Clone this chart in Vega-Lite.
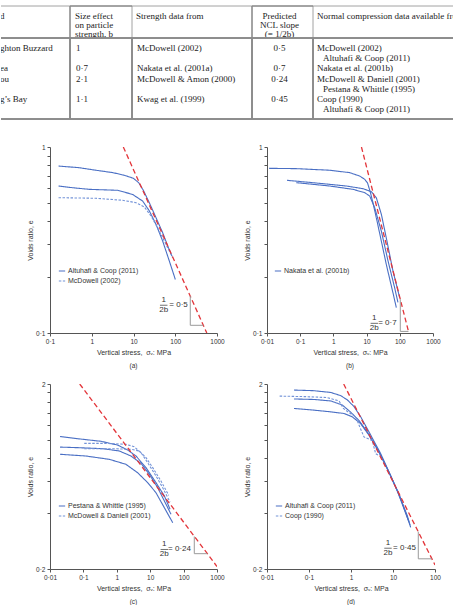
{
  "$schema": "https://vega.github.io/schema/vega-lite/v6.json",
  "padding": {"left": 0, "top": 5, "right": 0, "bottom": 0},
  "bounds": "full",
  "spacing": 24,
  "config": {
    "view": {"stroke": null},
    "font": "Liberation Sans",
    "axis": {
      "labelFont": "Liberation Sans", "labelFontSize": 6.5, "labelColor": "#333",
      "titleFont": "Liberation Sans", "titleFontSize": 7, "titleFontWeight": "normal", "titleColor": "#333",
      "domainColor": "#555", "tickColor": "#555", "tickSize": 3, "grid": false,
      "labelPadding": 2.5, "labelOverlap": false, "labelFlush": false, "labelBound": false
    },
    "axisX": {"titlePadding": 3.5},
    "axisY": {"titlePadding": 2.5, "labelPadding": 2},
    "legend": {
      "title": null, "orient": "none", "labelFont": "Liberation Sans", "labelFontSize": 7, "labelColor": "#333",
      "symbolType": "stroke", "symbolSize": 40, "symbolStrokeWidth": 1.2, "labelOffset": 2, "rowPadding": 3, "padding": 0
    },
    "title": {"font": "Liberation Sans", "fontSize": 6.5, "fontWeight": "normal", "color": "#333", "offset": 7}
  },
  "resolve": {
    "scale": {"x": "independent", "y": "independent", "color": "independent", "strokeDash": "independent"},
    "legend": {"color": "independent", "strokeDash": "independent"}
  },
  "datasets": {
    "tableHeader": [
      {"col": "sand", "line": 0, "text": "d"},
      {"col": "b", "line": 0, "text": "Size effect"},
      {"col": "b", "line": 1, "text": "on particle"},
      {"col": "b", "line": 2, "text": "strength, b"},
      {"col": "strength", "line": 0, "text": "Strength data from"},
      {"col": "slope", "line": 0, "text": "Predicted"},
      {"col": "slope", "line": 1, "text": "NCL slope"},
      {"col": "slope", "line": 2, "text": "(= 1/2b)"},
      {"col": "ncl", "line": 0, "text": "Normal compression data available from"}
    ],
    "tableBody": [
      {"line": 0, "sand": "ghton Buzzard", "b": "1", "strength": "McDowell (2002)", "slope": "0·5", "ncl": "McDowell (2002)", "cont": false},
      {"line": 1, "sand": "", "b": "", "strength": "", "slope": "", "ncl": "Altuhafi & Coop (2011)", "cont": true},
      {"line": 2, "sand": "ea", "b": "0·7", "strength": "Nakata et al. (2001a)", "slope": "0·7", "ncl": "Nakata et al. (2001b)", "cont": false},
      {"line": 3, "sand": "ou", "b": "2·1", "strength": "McDowell & Amon (2000)", "slope": "0·24", "ncl": "McDowell & Daniell (2001)", "cont": false},
      {"line": 4, "sand": "", "b": "", "strength": "", "slope": "", "ncl": "Pestana & Whittle (1995)", "cont": true},
      {"line": 5, "sand": "g’s Bay", "b": "1·1", "strength": "Kwag et al. (1999)", "slope": "0·45", "ncl": "Coop (1990)", "cont": false},
      {"line": 6, "sand": "", "b": "", "strength": "", "slope": "", "ncl": "Altuhafi & Coop (2011)", "cont": true}
    ],
    "curves": [
      {"panel": "a", "test": "a1", "source": "Altuhafi & Coop (2011)", "stress": 0.16, "e": 0.79},
      {"panel": "a", "test": "a1", "source": "Altuhafi & Coop (2011)", "stress": 0.5, "e": 0.774},
      {"panel": "a", "test": "a1", "source": "Altuhafi & Coop (2011)", "stress": 1.26, "e": 0.75},
      {"panel": "a", "test": "a1", "source": "Altuhafi & Coop (2011)", "stress": 3.2, "e": 0.728},
      {"panel": "a", "test": "a1", "source": "Altuhafi & Coop (2011)", "stress": 6, "e": 0.705},
      {"panel": "a", "test": "a1", "source": "Altuhafi & Coop (2011)", "stress": 9.9, "e": 0.679},
      {"panel": "a", "test": "a1", "source": "Altuhafi & Coop (2011)", "stress": 13.3, "e": 0.643},
      {"panel": "a", "test": "a1", "source": "Altuhafi & Coop (2011)", "stress": 17.2, "e": 0.585},
      {"panel": "a", "test": "a1", "source": "Altuhafi & Coop (2011)", "stress": 23.9, "e": 0.502},
      {"panel": "a", "test": "a1", "source": "Altuhafi & Coop (2011)", "stress": 34.6, "e": 0.417},
      {"panel": "a", "test": "a1", "source": "Altuhafi & Coop (2011)", "stress": 50, "e": 0.346},
      {"panel": "a", "test": "a1", "source": "Altuhafi & Coop (2011)", "stress": 65.9, "e": 0.294},
      {"panel": "a", "test": "a1", "source": "Altuhafi & Coop (2011)", "stress": 83.6, "e": 0.259},
      {"panel": "a", "test": "a2", "source": "Altuhafi & Coop (2011)", "stress": 0.16, "e": 0.617},
      {"panel": "a", "test": "a2", "source": "Altuhafi & Coop (2011)", "stress": 0.35, "e": 0.604},
      {"panel": "a", "test": "a2", "source": "Altuhafi & Coop (2011)", "stress": 0.87, "e": 0.592},
      {"panel": "a", "test": "a2", "source": "Altuhafi & Coop (2011)", "stress": 4.2, "e": 0.585},
      {"panel": "a", "test": "a2", "source": "Altuhafi & Coop (2011)", "stress": 9.5, "e": 0.556},
      {"panel": "a", "test": "a2", "source": "Altuhafi & Coop (2011)", "stress": 16.6, "e": 0.512},
      {"panel": "a", "test": "a2", "source": "Altuhafi & Coop (2011)", "stress": 24, "e": 0.453},
      {"panel": "a", "test": "a2", "source": "Altuhafi & Coop (2011)", "stress": 34.6, "e": 0.384},
      {"panel": "a", "test": "a2", "source": "Altuhafi & Coop (2011)", "stress": 50, "e": 0.312},
      {"panel": "a", "test": "a2", "source": "Altuhafi & Coop (2011)", "stress": 72, "e": 0.244},
      {"panel": "a", "test": "a2", "source": "Altuhafi & Coop (2011)", "stress": 100.5, "e": 0.194},
      {"panel": "a", "test": "a3", "source": "McDowell (2002)", "stress": 0.16, "e": 0.534},
      {"panel": "a", "test": "a3", "source": "McDowell (2002)", "stress": 1.26, "e": 0.53},
      {"panel": "a", "test": "a3", "source": "McDowell (2002)", "stress": 5.5, "e": 0.517},
      {"panel": "a", "test": "a3", "source": "McDowell (2002)", "stress": 11.5, "e": 0.502},
      {"panel": "a", "test": "a3", "source": "McDowell (2002)", "stress": 18.2, "e": 0.476},
      {"panel": "a", "test": "a3", "source": "McDowell (2002)", "stress": 26.2, "e": 0.426},
      {"panel": "a", "test": "a3", "source": "McDowell (2002)", "stress": 37.9, "e": 0.368},
      {"panel": "a", "test": "a3", "source": "McDowell (2002)", "stress": 54.7, "e": 0.312},
      {"panel": "a", "test": "a3", "source": "McDowell (2002)", "stress": 86.9, "e": 0.254},

      {"panel": "b", "test": "b1", "source": "Nakata et al. (2001b)", "stress": 0.0115, "e": 0.768},
      {"panel": "b", "test": "b1", "source": "Nakata et al. (2001b)", "stress": 0.076, "e": 0.765},
      {"panel": "b", "test": "b1", "source": "Nakata et al. (2001b)", "stress": 0.77, "e": 0.75},
      {"panel": "b", "test": "b1", "source": "Nakata et al. (2001b)", "stress": 3.1, "e": 0.728},
      {"panel": "b", "test": "b1", "source": "Nakata et al. (2001b)", "stress": 6.2, "e": 0.698},
      {"panel": "b", "test": "b1", "source": "Nakata et al. (2001b)", "stress": 8.8, "e": 0.67},
      {"panel": "b", "test": "b1", "source": "Nakata et al. (2001b)", "stress": 10.7, "e": 0.64},
      {"panel": "b", "test": "b1", "source": "Nakata et al. (2001b)", "stress": 13, "e": 0.57},
      {"panel": "b", "test": "b1", "source": "Nakata et al. (2001b)", "stress": 15.6, "e": 0.5},
      {"panel": "b", "test": "b1", "source": "Nakata et al. (2001b)", "stress": 20, "e": 0.41},
      {"panel": "b", "test": "b1", "source": "Nakata et al. (2001b)", "stress": 28, "e": 0.31},
      {"panel": "b", "test": "b1", "source": "Nakata et al. (2001b)", "stress": 40, "e": 0.23},
      {"panel": "b", "test": "b1", "source": "Nakata et al. (2001b)", "stress": 62, "e": 0.165},
      {"panel": "b", "test": "b1", "source": "Nakata et al. (2001b)", "stress": 78.5, "e": 0.137},
      {"panel": "b", "test": "b2", "source": "Nakata et al. (2001b)", "stress": 0.04, "e": 0.662},
      {"panel": "b", "test": "b2", "source": "Nakata et al. (2001b)", "stress": 0.24, "e": 0.643},
      {"panel": "b", "test": "b2", "source": "Nakata et al. (2001b)", "stress": 2.45, "e": 0.617},
      {"panel": "b", "test": "b2", "source": "Nakata et al. (2001b)", "stress": 7.8, "e": 0.597},
      {"panel": "b", "test": "b2", "source": "Nakata et al. (2001b)", "stress": 13.9, "e": 0.575},
      {"panel": "b", "test": "b2", "source": "Nakata et al. (2001b)", "stress": 19.6, "e": 0.534},
      {"panel": "b", "test": "b2", "source": "Nakata et al. (2001b)", "stress": 27.8, "e": 0.435},
      {"panel": "b", "test": "b2", "source": "Nakata et al. (2001b)", "stress": 41, "e": 0.312},
      {"panel": "b", "test": "b2", "source": "Nakata et al. (2001b)", "stress": 62.4, "e": 0.215},
      {"panel": "b", "test": "b2", "source": "Nakata et al. (2001b)", "stress": 99, "e": 0.155},
      {"panel": "b", "test": "b3", "source": "Nakata et al. (2001b)", "stress": 0.076, "e": 0.643},
      {"panel": "b", "test": "b3", "source": "Nakata et al. (2001b)", "stress": 0.77, "e": 0.617},
      {"panel": "b", "test": "b3", "source": "Nakata et al. (2001b)", "stress": 3.9, "e": 0.592},
      {"panel": "b", "test": "b3", "source": "Nakata et al. (2001b)", "stress": 8.8, "e": 0.568},
      {"panel": "b", "test": "b3", "source": "Nakata et al. (2001b)", "stress": 12.4, "e": 0.545},
      {"panel": "b", "test": "b3", "source": "Nakata et al. (2001b)", "stress": 17.5, "e": 0.472},
      {"panel": "b", "test": "b3", "source": "Nakata et al. (2001b)", "stress": 27.8, "e": 0.353},
      {"panel": "b", "test": "b3", "source": "Nakata et al. (2001b)", "stress": 44.2, "e": 0.244},
      {"panel": "b", "test": "b3", "source": "Nakata et al. (2001b)", "stress": 70, "e": 0.175},
      {"panel": "b", "test": "b3", "source": "Nakata et al. (2001b)", "stress": 88, "e": 0.146},

      {"panel": "c", "test": "c1", "source": "Pestana & Whittle (1995)", "stress": 0.02, "e": 1.04},
      {"panel": "c", "test": "c1", "source": "Pestana & Whittle (1995)", "stress": 0.075, "e": 1.01},
      {"panel": "c", "test": "c1", "source": "Pestana & Whittle (1995)", "stress": 0.34, "e": 0.98},
      {"panel": "c", "test": "c1", "source": "Pestana & Whittle (1995)", "stress": 1.06, "e": 0.935},
      {"panel": "c", "test": "c1", "source": "Pestana & Whittle (1995)", "stress": 2.12, "e": 0.879},
      {"panel": "c", "test": "c1", "source": "Pestana & Whittle (1995)", "stress": 3.76, "e": 0.816},
      {"panel": "c", "test": "c1", "source": "Pestana & Whittle (1995)", "stress": 7.5, "e": 0.706},
      {"panel": "c", "test": "c1", "source": "Pestana & Whittle (1995)", "stress": 14.9, "e": 0.586},
      {"panel": "c", "test": "c1", "source": "Pestana & Whittle (1995)", "stress": 26.5, "e": 0.497},
      {"panel": "c", "test": "c1", "source": "Pestana & Whittle (1995)", "stress": 39.2, "e": 0.421},
      {"panel": "c", "test": "c2", "source": "Pestana & Whittle (1995)", "stress": 0.02, "e": 0.912},
      {"panel": "c", "test": "c2", "source": "Pestana & Whittle (1995)", "stress": 0.075, "e": 0.905},
      {"panel": "c", "test": "c2", "source": "Pestana & Whittle (1995)", "stress": 0.38, "e": 0.894},
      {"panel": "c", "test": "c2", "source": "Pestana & Whittle (1995)", "stress": 1.19, "e": 0.869},
      {"panel": "c", "test": "c2", "source": "Pestana & Whittle (1995)", "stress": 2.66, "e": 0.816},
      {"panel": "c", "test": "c2", "source": "Pestana & Whittle (1995)", "stress": 5.3, "e": 0.745},
      {"panel": "c", "test": "c2", "source": "Pestana & Whittle (1995)", "stress": 9.4, "e": 0.65},
      {"panel": "c", "test": "c2", "source": "Pestana & Whittle (1995)", "stress": 16.8, "e": 0.55},
      {"panel": "c", "test": "c2", "source": "Pestana & Whittle (1995)", "stress": 29.7, "e": 0.448},
      {"panel": "c", "test": "c2", "source": "Pestana & Whittle (1995)", "stress": 42, "e": 0.395},
      {"panel": "c", "test": "c3", "source": "Pestana & Whittle (1995)", "stress": 0.02, "e": 0.834},
      {"panel": "c", "test": "c3", "source": "Pestana & Whittle (1995)", "stress": 0.12, "e": 0.816},
      {"panel": "c", "test": "c3", "source": "Pestana & Whittle (1995)", "stress": 0.6, "e": 0.783},
      {"panel": "c", "test": "c3", "source": "Pestana & Whittle (1995)", "stress": 1.88, "e": 0.736},
      {"panel": "c", "test": "c3", "source": "Pestana & Whittle (1995)", "stress": 4.2, "e": 0.663},
      {"panel": "c", "test": "c3", "source": "Pestana & Whittle (1995)", "stress": 8.4, "e": 0.586},
      {"panel": "c", "test": "c3", "source": "Pestana & Whittle (1995)", "stress": 14.9, "e": 0.517},
      {"panel": "c", "test": "c3", "source": "Pestana & Whittle (1995)", "stress": 26.5, "e": 0.429},
      {"panel": "c", "test": "c3", "source": "Pestana & Whittle (1995)", "stress": 47.2, "e": 0.356},
      {"panel": "c", "test": "c4", "source": "McDowell & Daniell (2001)", "stress": 0.106, "e": 0.955},
      {"panel": "c", "test": "c4", "source": "McDowell & Daniell (2001)", "stress": 0.475, "e": 0.955},
      {"panel": "c", "test": "c4", "source": "McDowell & Daniell (2001)", "stress": 1.88, "e": 0.945},
      {"panel": "c", "test": "c4", "source": "McDowell & Daniell (2001)", "stress": 3.3, "e": 0.916},
      {"panel": "c", "test": "c4", "source": "McDowell & Daniell (2001)", "stress": 5.3, "e": 0.851},
      {"panel": "c", "test": "c4", "source": "McDowell & Daniell (2001)", "stress": 8.4, "e": 0.751},
      {"panel": "c", "test": "c4", "source": "McDowell & Daniell (2001)", "stress": 14.9, "e": 0.637},
      {"panel": "c", "test": "c4", "source": "McDowell & Daniell (2001)", "stress": 23.7, "e": 0.55},
      {"panel": "c", "test": "c4", "source": "McDowell & Daniell (2001)", "stress": 39.2, "e": 0.46},
      {"panel": "c", "test": "c5", "source": "McDowell & Daniell (2001)", "stress": 0.106, "e": 0.894},
      {"panel": "c", "test": "c5", "source": "McDowell & Daniell (2001)", "stress": 0.75, "e": 0.894},
      {"panel": "c", "test": "c5", "source": "McDowell & Daniell (2001)", "stress": 2.66, "e": 0.887},
      {"panel": "c", "test": "c5", "source": "McDowell & Daniell (2001)", "stress": 4.7, "e": 0.869},
      {"panel": "c", "test": "c5", "source": "McDowell & Daniell (2001)", "stress": 7.5, "e": 0.8},
      {"panel": "c", "test": "c5", "source": "McDowell & Daniell (2001)", "stress": 11.9, "e": 0.706},
      {"panel": "c", "test": "c5", "source": "McDowell & Daniell (2001)", "stress": 21, "e": 0.598},
      {"panel": "c", "test": "c5", "source": "McDowell & Daniell (2001)", "stress": 36, "e": 0.5},

      {"panel": "d", "test": "d1", "source": "Altuhafi & Coop (2011)", "stress": 0.044, "e": 1.855},
      {"panel": "d", "test": "d1", "source": "Altuhafi & Coop (2011)", "stress": 0.13, "e": 1.84},
      {"panel": "d", "test": "d1", "source": "Altuhafi & Coop (2011)", "stress": 0.33, "e": 1.8},
      {"panel": "d", "test": "d1", "source": "Altuhafi & Coop (2011)", "stress": 0.57, "e": 1.73},
      {"panel": "d", "test": "d1", "source": "Altuhafi & Coop (2011)", "stress": 0.82, "e": 1.64},
      {"panel": "d", "test": "d1", "source": "Altuhafi & Coop (2011)", "stress": 1.18, "e": 1.51},
      {"panel": "d", "test": "d1", "source": "Altuhafi & Coop (2011)", "stress": 1.7, "e": 1.33},
      {"panel": "d", "test": "d1", "source": "Altuhafi & Coop (2011)", "stress": 2.94, "e": 1.06},
      {"panel": "d", "test": "d1", "source": "Altuhafi & Coop (2011)", "stress": 5.1, "e": 0.84},
      {"panel": "d", "test": "d1", "source": "Altuhafi & Coop (2011)", "stress": 8.8, "e": 0.64},
      {"panel": "d", "test": "d1", "source": "Altuhafi & Coop (2011)", "stress": 15.2, "e": 0.478},
      {"panel": "d", "test": "d1", "source": "Altuhafi & Coop (2011)", "stress": 21.9, "e": 0.388},
      {"panel": "d", "test": "d1", "source": "Altuhafi & Coop (2011)", "stress": 26.3, "e": 0.336},
      {"panel": "d", "test": "d2", "source": "Altuhafi & Coop (2011)", "stress": 0.044, "e": 1.66},
      {"panel": "d", "test": "d2", "source": "Altuhafi & Coop (2011)", "stress": 0.13, "e": 1.65},
      {"panel": "d", "test": "d2", "source": "Altuhafi & Coop (2011)", "stress": 0.33, "e": 1.62},
      {"panel": "d", "test": "d2", "source": "Altuhafi & Coop (2011)", "stress": 0.62, "e": 1.54},
      {"panel": "d", "test": "d2", "source": "Altuhafi & Coop (2011)", "stress": 0.98, "e": 1.41},
      {"panel": "d", "test": "d2", "source": "Altuhafi & Coop (2011)", "stress": 1.55, "e": 1.27},
      {"panel": "d", "test": "d2", "source": "Altuhafi & Coop (2011)", "stress": 2.45, "e": 1.1},
      {"panel": "d", "test": "d2", "source": "Altuhafi & Coop (2011)", "stress": 4.2, "e": 0.895},
      {"panel": "d", "test": "d2", "source": "Altuhafi & Coop (2011)", "stress": 7.3, "e": 0.697},
      {"panel": "d", "test": "d2", "source": "Altuhafi & Coop (2011)", "stress": 12.6, "e": 0.531},
      {"panel": "d", "test": "d2", "source": "Altuhafi & Coop (2011)", "stress": 25.4, "e": 0.346},
      {"panel": "d", "test": "d3", "source": "Altuhafi & Coop (2011)", "stress": 0.044, "e": 1.475},
      {"panel": "d", "test": "d3", "source": "Altuhafi & Coop (2011)", "stress": 0.13, "e": 1.445},
      {"panel": "d", "test": "d3", "source": "Altuhafi & Coop (2011)", "stress": 0.33, "e": 1.414},
      {"panel": "d", "test": "d3", "source": "Altuhafi & Coop (2011)", "stress": 0.68, "e": 1.386},
      {"panel": "d", "test": "d3", "source": "Altuhafi & Coop (2011)", "stress": 1.07, "e": 1.33},
      {"panel": "d", "test": "d3", "source": "Altuhafi & Coop (2011)", "stress": 1.7, "e": 1.22},
      {"panel": "d", "test": "d3", "source": "Altuhafi & Coop (2011)", "stress": 2.69, "e": 1.056},
      {"panel": "d", "test": "d3", "source": "Altuhafi & Coop (2011)", "stress": 4.64, "e": 0.857},
      {"panel": "d", "test": "d3", "source": "Altuhafi & Coop (2011)", "stress": 8, "e": 0.667},
      {"panel": "d", "test": "d3", "source": "Altuhafi & Coop (2011)", "stress": 13.9, "e": 0.509},
      {"panel": "d", "test": "d3", "source": "Altuhafi & Coop (2011)", "stress": 24, "e": 0.36},
      {"panel": "d", "test": "d4", "source": "Coop (1990)", "stress": 0.02, "e": 1.72},
      {"panel": "d", "test": "d4", "source": "Coop (1990)", "stress": 0.076, "e": 1.71},
      {"panel": "d", "test": "d4", "source": "Coop (1990)", "stress": 0.27, "e": 1.69},
      {"panel": "d", "test": "d4", "source": "Coop (1990)", "stress": 0.52, "e": 1.62},
      {"panel": "d", "test": "d4", "source": "Coop (1990)", "stress": 0.66, "e": 1.475},
      {"panel": "d", "test": "d4", "source": "Coop (1990)", "stress": 0.9, "e": 1.4},
      {"panel": "d", "test": "d4", "source": "Coop (1990)", "stress": 1.29, "e": 1.33},
      {"panel": "d", "test": "d4", "source": "Coop (1990)", "stress": 1.55, "e": 1.2},
      {"panel": "d", "test": "d4", "source": "Coop (1990)", "stress": 2.04, "e": 1.035},
      {"panel": "d", "test": "d4", "source": "Coop (1990)", "stress": 3.2, "e": 0.99},
      {"panel": "d", "test": "d4", "source": "Coop (1990)", "stress": 3.87, "e": 0.84},
      {"panel": "d", "test": "d4", "source": "Coop (1990)", "stress": 4.6, "e": 0.82}
    ],
    "ncl": [
      {"panel": "a", "stress": 5.7, "e": 1},
      {"panel": "a", "stress": 570, "e": 0.1},
      {"panel": "b", "stress": 7, "e": 1},
      {"panel": "b", "stress": 187.8, "e": 0.1},
      {"panel": "c", "stress": 0.0776, "e": 2},
      {"panel": "c", "stress": 1000, "e": 0.2063},
      {"panel": "d", "stress": 0.67, "e": 2},
      {"panel": "d", "stress": 100, "e": 0.2104}
    ],
    "legs": [
      {"panel": "a", "stress": 229, "stress2": 229, "e": 0.11, "e2": 0.158},
      {"panel": "a", "stress": 229, "stress2": 471, "e": 0.11, "e2": 0.11},
      {"panel": "b", "stress": 103.5, "stress2": 103.5, "e": 0.102, "e2": 0.152},
      {"panel": "b", "stress": 103.5, "stress2": 182.6, "e": 0.102, "e2": 0.102},
      {"panel": "c", "stress": 209, "stress2": 209, "e": 0.242, "e2": 0.3},
      {"panel": "c", "stress": 209, "stress2": 512, "e": 0.242, "e2": 0.242},
      {"panel": "d", "stress": 40, "stress2": 40, "e": 0.227, "e2": 0.318},
      {"panel": "d", "stress": 40, "stress2": 84.3, "e": 0.227, "e2": 0.227}
    ],
    "slopeLabels": [
      {"panel": "a", "stress": 229, "e": 0.141, "text": "= 0·5"},
      {"panel": "b", "stress": 103.5, "e": 0.1127, "text": "= 0·7"},
      {"panel": "c", "stress": 209, "e": 0.255, "text": "= 0·24"},
      {"panel": "d", "stress": 40, "e": 0.259, "text": "= 0·45"}
    ]
  },
  "vconcat": [
    {
      "columns": 5,
      "bounds": "flush",
      "align": "each",
      "spacing": 0,
      "resolve": {"scale": {"x": "independent", "y": "independent"}},
      "concat": [
        {
          "width": 69, "height": 32,
          "data": {"name": "tableHeader"},
          "transform": [{"filter": "datum.col === 'sand'"}],
          "layer": [
            {"mark": {"type": "rule", "color": "#8c8c8c", "strokeWidth": 0.8}, "encoding": {"y": {"value": 0}}},
            {"mark": {"type": "text", "align": "left", "baseline": "middle", "font": "Liberation Serif", "fontSize": 9, "color": "#222", "dx": -1, "clip": true},
             "encoding": {"x": {"value": 0}, "y": {"field": "line", "type": "ordinal", "scale": {"type": "point", "domain": [0, 1, 2], "padding": 0.73, "align": 0.74}, "axis": null}, "text": {"field": "text"}}}
          ]
        },
        {
          "width": 62, "height": 32,
          "data": {"name": "tableHeader"},
          "transform": [{"filter": "datum.col === 'b'"}],
          "layer": [
            {"mark": {"type": "rule", "color": "#8c8c8c", "strokeWidth": 0.8}, "encoding": {"y": {"value": 0}}},
            {"mark": {"type": "rule", "color": "#8c8c8c", "strokeWidth": 0.8}, "encoding": {"x": {"value": 0}}},
            {"mark": {"type": "text", "align": "left", "baseline": "middle", "font": "Liberation Serif", "fontSize": 9, "color": "#222", "dx": 5, "clip": true},
             "encoding": {"x": {"value": 0}, "y": {"field": "line", "type": "ordinal", "scale": {"type": "point", "domain": [0, 1, 2], "padding": 0.73, "align": 0.74}, "axis": null}, "text": {"field": "text"}}}
          ]
        },
        {
          "width": 120, "height": 32,
          "data": {"name": "tableHeader"},
          "transform": [{"filter": "datum.col === 'strength'"}],
          "layer": [
            {"mark": {"type": "rule", "color": "#8c8c8c", "strokeWidth": 0.8}, "encoding": {"y": {"value": 0}}},
            {"mark": {"type": "rule", "color": "#8c8c8c", "strokeWidth": 0.8}, "encoding": {"x": {"value": 0}}},
            {"mark": {"type": "text", "align": "left", "baseline": "middle", "font": "Liberation Serif", "fontSize": 9, "color": "#222", "dx": 4, "clip": true},
             "encoding": {"x": {"value": 0}, "y": {"field": "line", "type": "ordinal", "scale": {"type": "point", "domain": [0, 1, 2], "padding": 0.73, "align": 0.74}, "axis": null}, "text": {"field": "text"}}}
          ]
        },
        {
          "width": 61, "height": 32,
          "data": {"name": "tableHeader"},
          "transform": [{"filter": "datum.col === 'slope'"}],
          "layer": [
            {"mark": {"type": "rule", "color": "#8c8c8c", "strokeWidth": 0.8}, "encoding": {"y": {"value": 0}}},
            {"mark": {"type": "rule", "color": "#8c8c8c", "strokeWidth": 0.8}, "encoding": {"x": {"value": 0}}},
            {"mark": {"type": "text", "align": "center", "baseline": "middle", "font": "Liberation Serif", "fontSize": 9, "color": "#222", "dx": -3, "clip": true},
             "encoding": {"y": {"field": "line", "type": "ordinal", "scale": {"type": "point", "domain": [0, 1, 2], "padding": 0.73, "align": 0.74}, "axis": null}, "text": {"field": "text"}}}
          ]
        },
        {
          "width": 141, "height": 32,
          "data": {"name": "tableHeader"},
          "transform": [{"filter": "datum.col === 'ncl'"}],
          "layer": [
            {"mark": {"type": "rule", "color": "#8c8c8c", "strokeWidth": 0.8}, "encoding": {"y": {"value": 0}}},
            {"mark": {"type": "rule", "color": "#8c8c8c", "strokeWidth": 0.8}, "encoding": {"x": {"value": 0}}},
            {"mark": {"type": "text", "align": "left", "baseline": "middle", "font": "Liberation Serif", "fontSize": 9, "color": "#222", "dx": 4, "clip": true},
             "encoding": {"x": {"value": 0}, "y": {"field": "line", "type": "ordinal", "scale": {"type": "point", "domain": [0, 1, 2], "padding": 0.73, "align": 0.74}, "axis": null}, "text": {"field": "text"}}}
          ]
        },
        {
          "width": 69, "height": 81,
          "data": {"name": "tableBody"},
          "layer": [
            {"mark": {"type": "rule", "color": "#8c8c8c", "strokeWidth": 0.8}, "encoding": {"y": {"value": 0}}},
            {"mark": {"type": "rule", "color": "#8c8c8c", "strokeWidth": 0.8}, "encoding": {"y": {"value": "height"}}},
            {"mark": {"type": "text", "align": "left", "baseline": "middle", "font": "Liberation Serif", "fontSize": 9, "color": "#222", "dx": -1, "clip": true},
             "encoding": {"x": {"value": 0}, "y": {"field": "line", "type": "ordinal", "scale": {"type": "point", "domain": [0, 1, 2, 3, 4, 5, 6], "padding": 1.29, "align": 0.5}, "axis": null}, "text": {"field": "sand"}}}
          ]
        },
        {
          "width": 62, "height": 81,
          "data": {"name": "tableBody"},
          "layer": [
            {"mark": {"type": "rule", "color": "#8c8c8c", "strokeWidth": 0.8}, "encoding": {"y": {"value": 0}}},
            {"mark": {"type": "rule", "color": "#8c8c8c", "strokeWidth": 0.8}, "encoding": {"y": {"value": "height"}}},
            {"mark": {"type": "rule", "color": "#8c8c8c", "strokeWidth": 0.8}, "encoding": {"x": {"value": 0}}},
            {"mark": {"type": "text", "align": "left", "baseline": "middle", "font": "Liberation Serif", "fontSize": 9, "color": "#222", "dx": 6, "clip": true},
             "encoding": {"x": {"value": 0}, "y": {"field": "line", "type": "ordinal", "scale": {"type": "point", "domain": [0, 1, 2, 3, 4, 5, 6], "padding": 1.29, "align": 0.5}, "axis": null}, "text": {"field": "b"}}}
          ]
        },
        {
          "width": 120, "height": 81,
          "data": {"name": "tableBody"},
          "layer": [
            {"mark": {"type": "rule", "color": "#8c8c8c", "strokeWidth": 0.8}, "encoding": {"y": {"value": 0}}},
            {"mark": {"type": "rule", "color": "#8c8c8c", "strokeWidth": 0.8}, "encoding": {"y": {"value": "height"}}},
            {"mark": {"type": "rule", "color": "#8c8c8c", "strokeWidth": 0.8}, "encoding": {"x": {"value": 0}}},
            {"mark": {"type": "text", "align": "left", "baseline": "middle", "font": "Liberation Serif", "fontSize": 9, "color": "#222", "dx": 5, "clip": true},
             "encoding": {"x": {"value": 0}, "y": {"field": "line", "type": "ordinal", "scale": {"type": "point", "domain": [0, 1, 2, 3, 4, 5, 6], "padding": 1.29, "align": 0.5}, "axis": null}, "text": {"field": "strength"}}}
          ]
        },
        {
          "width": 61, "height": 81,
          "data": {"name": "tableBody"},
          "layer": [
            {"mark": {"type": "rule", "color": "#8c8c8c", "strokeWidth": 0.8}, "encoding": {"y": {"value": 0}}},
            {"mark": {"type": "rule", "color": "#8c8c8c", "strokeWidth": 0.8}, "encoding": {"y": {"value": "height"}}},
            {"mark": {"type": "rule", "color": "#8c8c8c", "strokeWidth": 0.8}, "encoding": {"x": {"value": 0}}},
            {"mark": {"type": "text", "align": "center", "baseline": "middle", "font": "Liberation Serif", "fontSize": 9, "color": "#222", "dx": -3, "clip": true},
             "encoding": {"y": {"field": "line", "type": "ordinal", "scale": {"type": "point", "domain": [0, 1, 2, 3, 4, 5, 6], "padding": 1.29, "align": 0.5}, "axis": null}, "text": {"field": "slope"}}}
          ]
        },
        {
          "width": 141, "height": 81,
          "data": {"name": "tableBody"},
          "layer": [
            {"mark": {"type": "rule", "color": "#8c8c8c", "strokeWidth": 0.8}, "encoding": {"y": {"value": 0}}},
            {"mark": {"type": "rule", "color": "#8c8c8c", "strokeWidth": 0.8}, "encoding": {"y": {"value": "height"}}},
            {"mark": {"type": "rule", "color": "#8c8c8c", "strokeWidth": 0.8}, "encoding": {"x": {"value": 0}}},
            {"transform": [{"filter": "!datum.cont"}],
             "mark": {"type": "text", "align": "left", "baseline": "middle", "font": "Liberation Serif", "fontSize": 9, "color": "#222", "dx": 4, "clip": true},
             "encoding": {"x": {"value": 0}, "y": {"field": "line", "type": "ordinal", "scale": {"type": "point", "domain": [0, 1, 2, 3, 4, 5, 6], "padding": 1.29, "align": 0.5}, "axis": null}, "text": {"field": "ncl"}}},
            {"transform": [{"filter": "datum.cont"}],
             "mark": {"type": "text", "align": "left", "baseline": "middle", "font": "Liberation Serif", "fontSize": 9, "color": "#222", "dx": 10, "clip": true},
             "encoding": {"x": {"value": 0}, "y": {"field": "line", "type": "ordinal", "scale": {"type": "point", "domain": [0, 1, 2, 3, 4, 5, 6], "padding": 1.29, "align": 0.5}, "axis": null}, "text": {"field": "ncl"}}}
          ]
        }
      ]
    },
    {
      "columns": 4,
      "bounds": "flush",
      "align": "each",
      "spacing": {"row": 51, "column": 0},
      "resolve": {
        "scale": {"x": "independent", "y": "independent", "color": "independent", "strokeDash": "independent"},
        "legend": {"color": "independent", "strokeDash": "independent"}
      },
      "concat": [
        {"width": 49, "height": 186, "data": {"values": []}, "mark": {"type": "point"}},
        {
          "width": 167, "height": 186,
          "title": {"text": "(a)", "orient": "bottom"},
          "layer": [
            {
              "data": {"name": "curves"},
              "transform": [{"filter": "datum.panel === 'a'"}],
              "mark": {"type": "line", "strokeWidth": 1.1, "clip": true},
              "encoding": {
                "x": {"field": "stress", "type": "quantitative", "scale": {"type": "log", "domain": [0.1, 1000], "nice": false},
                      "axis": {"values": [0.1, 1, 10, 100, 1000], "labelExpr": "replace(format(datum.value, '~g'), '.', '·')", "title": "Vertical stress,\u00a0 σᵥ: MPa"}},
                "y": {"field": "e", "type": "quantitative", "scale": {"type": "log", "domain": [0.1, 1], "nice": false},
                      "axis": {"values": [0.1, 0.2, 0.3, 0.4, 0.5, 0.6, 0.7, 0.8, 0.9, 1], "labelExpr": "datum.value === 1 ? '1' : datum.value === 0.1 ? '0·1' : ''", "title": "Voids ratio, e"}},
                "detail": {"field": "test"},
                "color": {"field": "source", "type": "nominal", "scale": {"domain": ["Altuhafi & Coop (2011)", "McDowell (2002)"], "range": ["#4a6fc4", "#7393d8"]},
                          "legend": {"legendX": 8, "legendY": 120}},
                "strokeDash": {"field": "source", "type": "nominal", "scale": {"domain": ["Altuhafi & Coop (2011)", "McDowell (2002)"], "range": [[1, 0], [2.5, 1.5]]},
                               "legend": {"legendX": 8, "legendY": 120}}
              }
            },
            {
              "data": {"name": "ncl"},
              "transform": [{"filter": "datum.panel === 'a'"}],
              "mark": {"type": "line", "color": "#e3353a", "strokeWidth": 1.3, "strokeDash": [5, 3], "clip": true},
              "encoding": {"x": {"field": "stress", "type": "quantitative"}, "y": {"field": "e", "type": "quantitative"}}
            },
            {
              "data": {"name": "legs"},
              "transform": [{"filter": "datum.panel === 'a'"}],
              "mark": {"type": "rule", "color": "#9a9a9a", "strokeWidth": 1},
              "encoding": {"x": {"field": "stress", "type": "quantitative"}, "x2": {"field": "stress2"}, "y": {"field": "e", "type": "quantitative"}, "y2": {"field": "e2"}}
            },
            {
              "data": {"name": "slopeLabels"},
              "transform": [{"filter": "datum.panel === 'a'"}],
              "encoding": {"x": {"field": "stress", "type": "quantitative"}, "y": {"field": "e", "type": "quantitative"}},
              "layer": [
                {"mark": {"type": "text", "align": "right", "baseline": "middle", "fontSize": 8, "color": "#333", "dx": -2.5}, "encoding": {"text": {"field": "text"}}},
                {"mark": {"type": "text", "text": "1", "align": "center", "baseline": "middle", "fontSize": 8, "color": "#333", "dx": -26.6, "dy": -5}},
                {"mark": {"type": "text", "text": "2b", "align": "center", "baseline": "middle", "fontSize": 8, "color": "#333", "dx": -26.6, "dy": 5}},
                {"mark": {"type": "rule", "color": "#333", "strokeWidth": 0.7, "xOffset": -30.3, "x2Offset": -22.8}, "encoding": {"x2": {"field": "stress"}}}
              ]
            }
          ]
        },
        {"width": 50, "height": 186, "data": {"values": []}, "mark": {"type": "point"}},
        {
          "width": 166, "height": 186,
          "title": {"text": "(b)", "orient": "bottom"},
          "layer": [
            {
              "data": {"name": "curves"},
              "transform": [{"filter": "datum.panel === 'b'"}],
              "mark": {"type": "line", "strokeWidth": 1.1, "clip": true},
              "encoding": {
                "x": {"field": "stress", "type": "quantitative", "scale": {"type": "log", "domain": [0.01, 1000], "nice": false},
                      "axis": {"values": [0.01, 0.1, 1, 10, 100, 1000], "labelExpr": "replace(format(datum.value, '~g'), '.', '·')", "title": "Vertical stress,\u00a0 σᵥ: MPa"}},
                "y": {"field": "e", "type": "quantitative", "scale": {"type": "log", "domain": [0.1, 1], "nice": false},
                      "axis": {"values": [0.1, 0.2, 0.3, 0.4, 0.5, 0.6, 0.7, 0.8, 0.9, 1], "labelExpr": "datum.value === 1 ? '1' : datum.value === 0.1 ? '0·1' : ''", "title": "Voids ratio, e"}},
                "detail": {"field": "test"},
                "color": {"field": "source", "type": "nominal", "scale": {"domain": ["Nakata et al. (2001b)"], "range": ["#4a6fc4"]},
                          "legend": {"legendX": 7, "legendY": 120}},
                "strokeDash": {"field": "source", "type": "nominal", "scale": {"domain": ["Nakata et al. (2001b)"], "range": [[1, 0]]},
                               "legend": {"legendX": 7, "legendY": 120}}
              }
            },
            {
              "data": {"name": "ncl"},
              "transform": [{"filter": "datum.panel === 'b'"}],
              "mark": {"type": "line", "color": "#e3353a", "strokeWidth": 1.3, "strokeDash": [5, 3], "clip": true},
              "encoding": {"x": {"field": "stress", "type": "quantitative"}, "y": {"field": "e", "type": "quantitative"}}
            },
            {
              "data": {"name": "legs"},
              "transform": [{"filter": "datum.panel === 'b'"}],
              "mark": {"type": "rule", "color": "#9a9a9a", "strokeWidth": 1},
              "encoding": {"x": {"field": "stress", "type": "quantitative"}, "x2": {"field": "stress2"}, "y": {"field": "e", "type": "quantitative"}, "y2": {"field": "e2"}}
            },
            {
              "data": {"name": "slopeLabels"},
              "transform": [{"filter": "datum.panel === 'b'"}],
              "encoding": {"x": {"field": "stress", "type": "quantitative"}, "y": {"field": "e", "type": "quantitative"}},
              "layer": [
                {"mark": {"type": "text", "align": "right", "baseline": "middle", "fontSize": 8, "color": "#333", "dx": -3.6}, "encoding": {"text": {"field": "text"}}},
                {"mark": {"type": "text", "text": "1", "align": "center", "baseline": "middle", "fontSize": 8, "color": "#333", "dx": -26, "dy": -5}},
                {"mark": {"type": "text", "text": "2b", "align": "center", "baseline": "middle", "fontSize": 8, "color": "#333", "dx": -26, "dy": 5}},
                {"mark": {"type": "rule", "color": "#333", "strokeWidth": 0.7, "xOffset": -29.7, "x2Offset": -22.3}, "encoding": {"x2": {"field": "stress"}}}
              ]
            }
          ]
        },
        {"width": 49, "height": 185, "data": {"values": []}, "mark": {"type": "point"}},
        {
          "width": 167, "height": 185,
          "title": {"text": "(c)", "orient": "bottom"},
          "layer": [
            {
              "data": {"name": "curves"},
              "transform": [{"filter": "datum.panel === 'c'"}],
              "mark": {"type": "line", "strokeWidth": 1.1, "clip": true},
              "encoding": {
                "x": {"field": "stress", "type": "quantitative", "scale": {"type": "log", "domain": [0.01, 1000], "nice": false},
                      "axis": {"values": [0.01, 0.1, 1, 10, 100, 1000], "labelExpr": "replace(format(datum.value, '~g'), '.', '·')", "title": "Vertical stress,\u00a0 σᵥ: MPa"}},
                "y": {"field": "e", "type": "quantitative", "scale": {"type": "log", "domain": [0.2, 2], "nice": false},
                      "axis": {"values": [0.2, 0.4, 0.6, 0.8, 1, 1.2, 1.4, 1.6, 1.8, 2], "labelExpr": "datum.value === 2 ? '2' : datum.value === 0.2 ? '0·2' : ''", "title": "Voids ratio, e"}},
                "detail": {"field": "test"},
                "color": {"field": "source", "type": "nominal", "scale": {"domain": ["Pestana & Whittle (1995)", "McDowell & Daniell (2001)"], "range": ["#4a6fc4", "#7393d8"]},
                          "legend": {"legendX": 8, "legendY": 118}},
                "strokeDash": {"field": "source", "type": "nominal", "scale": {"domain": ["Pestana & Whittle (1995)", "McDowell & Daniell (2001)"], "range": [[1, 0], [2.5, 1.5]]},
                               "legend": {"legendX": 8, "legendY": 118}}
              }
            },
            {
              "data": {"name": "ncl"},
              "transform": [{"filter": "datum.panel === 'c'"}],
              "mark": {"type": "line", "color": "#e3353a", "strokeWidth": 1.3, "strokeDash": [5, 3], "clip": true},
              "encoding": {"x": {"field": "stress", "type": "quantitative"}, "y": {"field": "e", "type": "quantitative"}}
            },
            {
              "data": {"name": "legs"},
              "transform": [{"filter": "datum.panel === 'c'"}],
              "mark": {"type": "rule", "color": "#9a9a9a", "strokeWidth": 1},
              "encoding": {"x": {"field": "stress", "type": "quantitative"}, "x2": {"field": "stress2"}, "y": {"field": "e", "type": "quantitative"}, "y2": {"field": "e2"}}
            },
            {
              "data": {"name": "slopeLabels"},
              "transform": [{"filter": "datum.panel === 'c'"}],
              "encoding": {"x": {"field": "stress", "type": "quantitative"}, "y": {"field": "e", "type": "quantitative"}},
              "layer": [
                {"mark": {"type": "text", "align": "right", "baseline": "middle", "fontSize": 8, "color": "#333", "dx": -3.3}, "encoding": {"text": {"field": "text"}}},
                {"mark": {"type": "text", "text": "1", "align": "center", "baseline": "middle", "fontSize": 8, "color": "#333", "dx": -30, "dy": -5.5}},
                {"mark": {"type": "text", "text": "2b", "align": "center", "baseline": "middle", "fontSize": 8, "color": "#333", "dx": -30, "dy": 5}},
                {"mark": {"type": "rule", "color": "#333", "strokeWidth": 0.7, "xOffset": -33.7, "x2Offset": -26.3}, "encoding": {"x2": {"field": "stress"}}}
              ]
            }
          ]
        },
        {"width": 49, "height": 185, "data": {"values": []}, "mark": {"type": "point"}},
        {
          "width": 168, "height": 185,
          "title": {"text": "(d)", "orient": "bottom"},
          "layer": [
            {
              "data": {"name": "curves"},
              "transform": [{"filter": "datum.panel === 'd'"}],
              "mark": {"type": "line", "strokeWidth": 1.1, "clip": true},
              "encoding": {
                "x": {"field": "stress", "type": "quantitative", "scale": {"type": "log", "domain": [0.01, 100], "nice": false},
                      "axis": {"values": [0.01, 0.1, 1, 10, 100], "labelExpr": "replace(format(datum.value, '~g'), '.', '·')", "title": "Vertical stress,\u00a0 σᵥ: MPa"}},
                "y": {"field": "e", "type": "quantitative", "scale": {"type": "log", "domain": [0.2, 2], "nice": false},
                      "axis": {"values": [0.2, 0.4, 0.6, 0.8, 1, 1.2, 1.4, 1.6, 1.8, 2], "labelExpr": "datum.value === 2 ? '2' : datum.value === 0.2 ? '0·2' : ''", "title": "Voids ratio, e"}},
                "detail": {"field": "test"},
                "color": {"field": "source", "type": "nominal", "scale": {"domain": ["Altuhafi & Coop (2011)", "Coop (1990)"], "range": ["#4a6fc4", "#7393d8"]},
                          "legend": {"legendX": 8, "legendY": 118}},
                "strokeDash": {"field": "source", "type": "nominal", "scale": {"domain": ["Altuhafi & Coop (2011)", "Coop (1990)"], "range": [[1, 0], [2.5, 1.5]]},
                               "legend": {"legendX": 8, "legendY": 118}}
              }
            },
            {
              "data": {"name": "ncl"},
              "transform": [{"filter": "datum.panel === 'd'"}],
              "mark": {"type": "line", "color": "#e3353a", "strokeWidth": 1.3, "strokeDash": [5, 3], "clip": true},
              "encoding": {"x": {"field": "stress", "type": "quantitative"}, "y": {"field": "e", "type": "quantitative"}}
            },
            {
              "data": {"name": "legs"},
              "transform": [{"filter": "datum.panel === 'd'"}],
              "mark": {"type": "rule", "color": "#9a9a9a", "strokeWidth": 1},
              "encoding": {"x": {"field": "stress", "type": "quantitative"}, "x2": {"field": "stress2"}, "y": {"field": "e", "type": "quantitative"}, "y2": {"field": "e2"}}
            },
            {
              "data": {"name": "slopeLabels"},
              "transform": [{"filter": "datum.panel === 'd'"}],
              "encoding": {"x": {"field": "stress", "type": "quantitative"}, "y": {"field": "e", "type": "quantitative"}},
              "layer": [
                {"mark": {"type": "text", "align": "right", "baseline": "middle", "fontSize": 8, "color": "#333", "dx": -2.3}, "encoding": {"text": {"field": "text"}}},
                {"mark": {"type": "text", "text": "1", "align": "center", "baseline": "middle", "fontSize": 8, "color": "#333", "dx": -30.3, "dy": -5}},
                {"mark": {"type": "text", "text": "2b", "align": "center", "baseline": "middle", "fontSize": 8, "color": "#333", "dx": -30.3, "dy": 5}},
                {"mark": {"type": "rule", "color": "#333", "strokeWidth": 0.7, "xOffset": -34, "x2Offset": -26.6}, "encoding": {"x2": {"field": "stress"}}}
              ]
            }
          ]
        }
      ]
    }
  ]
}
